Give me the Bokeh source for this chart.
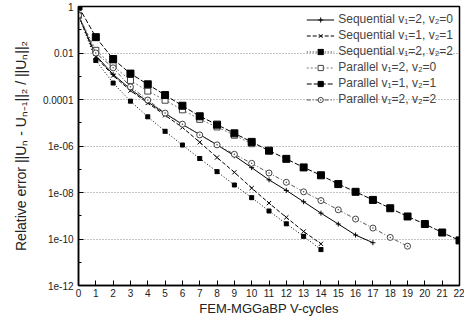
from bokeh.plotting import figure
from bokeh.models import FixedTicker, Legend, LegendItem, Range1d
from bokeh.embed import file_html
from bokeh.resources import INLINE

# ---- data ----
x_par11 = list(range(0, 23))
y_par11 = [1.0, 4.8e-2, 5.5e-3, 1.3e-3, 4.5e-4, 1.55e-4, 5.4e-5, 1.9e-5, 8.3e-6, 3.5e-6,
           1.5e-6, 6.3e-7, 2.8e-7, 1.2e-7, 5.5e-8, 2.3e-8, 1.07e-8, 4.8e-9, 2.1e-9,
           9.3e-10, 4.4e-10, 1.9e-10, 8.7e-11]

x_par20 = list(range(0, 11))
y_par20 = [0.42, 1.3e-2, 2.8e-3, 6.6e-4, 2.3e-4, 9.3e-5, 3.6e-5, 1.4e-5, 6.6e-6, 2.9e-6, 1.26e-6]

x_par22 = list(range(0, 20))
y_par22 = [0.42, 1.0e-2, 2.3e-3, 3.5e-4, 9.5e-5, 2.6e-5, 8.7e-6, 3.0e-6, 1.12e-6, 4.4e-7,
           1.8e-7, 6.9e-8, 2.75e-8, 1.07e-8, 4.5e-9, 1.8e-9, 7.2e-10, 2.95e-10, 1.17e-10, 4.9e-11]

x_seq20 = list(range(0, 18))
y_seq20 = [0.42, 7.9e-3, 1.2e-3, 2.8e-4, 7.9e-5, 2.5e-5, 8.5e-6, 3.1e-6, 1.12e-6, 3.8e-7,
           1.17e-7, 3.5e-8, 1.23e-8, 4.0e-9, 1.29e-9, 4.4e-10, 1.48e-10, 6.9e-11]

x_seq11 = list(range(0, 15))
y_seq11 = [0.42, 6.8e-3, 1.07e-3, 2.4e-4, 7.1e-5, 2.1e-5, 6.3e-6, 1.45e-6, 3.2e-7, 7.4e-8,
           1.55e-8, 3.5e-9, 8.5e-10, 2.1e-10, 6.2e-11]

x_seq22 = list(range(0, 15))
y_seq22 = [0.42, 4.8e-3, 5.1e-4, 8.5e-5, 1.8e-5, 4.3e-6, 1.1e-6, 2.9e-7, 7.9e-8, 2.1e-8,
           6.0e-9, 1.6e-9, 4.5e-10, 1.3e-10, 3.5e-11]

labels = ["Sequential v\u2081=2, v\u2082=0", "Sequential v\u2081=1, v\u2082=1",
          "Sequential v\u2081=2, v\u2082=2", "Parallel v\u2081=2, v\u2082=0",
          "Parallel v\u2081=1, v\u2082=1", "Parallel v\u2081=2, v\u2082=2"]

y_ticks = [1e-12, 1e-10, 1e-8, 1e-6, 1e-4, 1e-2, 1]
y_tick_labels = ["1e-12", "1e-10", "1e-08", "1e-06", "0.0001", "0.01", "1"]
y_minor = [1e-11, 1e-9, 1e-7, 1e-5, 1e-3, 1e-1]
x_ticks = list(range(0, 23))

FONT = "Liberation Sans"

p = figure(width=464, height=318, y_axis_type="log", output_backend="svg",
           toolbar_location=None, x_range=Range1d(0, 22), y_range=Range1d(1e-12, 1),
           min_border_left=78, min_border_right=5, min_border_top=6, min_border_bottom=0)
p.background_fill_color = "white"
p.border_fill_color = "white"
p.outline_line_color = "black"
p.outline_line_width = 1.5

p.xgrid.visible = False
p.ygrid.ticker = FixedTicker(ticks=y_ticks)
p.ygrid.grid_line_color = "#888888"
p.ygrid.grid_line_dash = "1 2"
p.ygrid.grid_line_width = 1

xa = p.xaxis[0]
xa.ticker = FixedTicker(ticks=x_ticks)
xa.axis_label = "FEM-MGGaBP V-cycles"
ya = p.yaxis[0]
ya.ticker = FixedTicker(ticks=y_ticks, minor_ticks=y_minor)
ya.major_label_overrides = {t: l for t, l in zip(y_ticks, y_tick_labels)}
ya.axis_label = "Relative error ||U\u2099 - U\u2099\u208b\u2081||\u2082 / ||U\u2099||\u2082"

for ax in (xa, ya):
    ax.axis_line_color = "black"
    ax.axis_line_width = 1.5
    ax.major_tick_in = 5
    ax.major_tick_out = 0
    ax.minor_tick_in = 3
    ax.minor_tick_out = 0
    ax.major_label_text_font = FONT
    ax.major_label_text_font_size = "10px"
    ax.major_label_text_color = "#222222"
    ax.axis_label_text_font = FONT
    ax.axis_label_text_font_style = "normal"
    ax.axis_label_text_color = "#222222"
xa.major_label_standoff = 3
xa.axis_label_standoff = 1
xa.axis_label_text_font_size = "13px"
ya.major_label_standoff = 5
ya.axis_label_standoff = 11
ya.axis_label_text_font_size = "14px"

items = []
r = p.line(x_seq20, y_seq20, line_color="black", line_width=1)
m = p.scatter(x_seq20, y_seq20, marker="cross", size=5, line_color="black")
items.append(LegendItem(label=labels[0], renderers=[r, m]))

r = p.line(x_seq11, y_seq11, line_color="black", line_width=1, line_dash="4 2")
m = p.scatter(x_seq11, y_seq11, marker="x", size=6, line_color="black")
items.append(LegendItem(label=labels[1], renderers=[r, m]))

r = p.line(x_seq22, y_seq22, line_color="black", line_width=1, line_dash="1 2")
m = p.scatter(x_seq22, y_seq22, marker="square_x", size=4, line_color="black",
              fill_color="black")
items.append(LegendItem(label=labels[2], renderers=[r, m]))

r = p.line(x_par20, y_par20, line_color="#777777", line_width=1, line_dash="2 2")
m = p.scatter(x_par20, y_par20, marker="square", size=6, line_color="#444444",
              fill_color="white")
items.append(LegendItem(label=labels[3], renderers=[r, m]))

r = p.line(x_par11, y_par11, line_color="black", line_width=1, line_dash="5 2")
m = p.scatter(x_par11, y_par11, marker="square", size=7, line_color="black",
              fill_color="black")
items.append(LegendItem(label=labels[4], renderers=[r, m]))

r = p.line(x_par22, y_par22, line_color="#555555", line_width=1, line_dash="4 2 1 2")
m = p.scatter(x_par22, y_par22, marker="circle_dot", size=6, line_color="#444444",
              fill_color="white")
items.append(LegendItem(label=labels[5], renderers=[r, m]))

legend = Legend(items=items, location="top_right")
legend.border_line_color = None
legend.background_fill_alpha = 0
legend.label_text_font = FONT
legend.label_text_font_size = "12px"
legend.label_height = 13
legend.glyph_height = 13
legend.glyph_width = 28
legend.spacing = 2
legend.padding = 2
legend.margin = 6
legend.label_standoff = 4
p.add_layout(legend, "center")

open("out.html", "w").write(file_html(p, INLINE))
